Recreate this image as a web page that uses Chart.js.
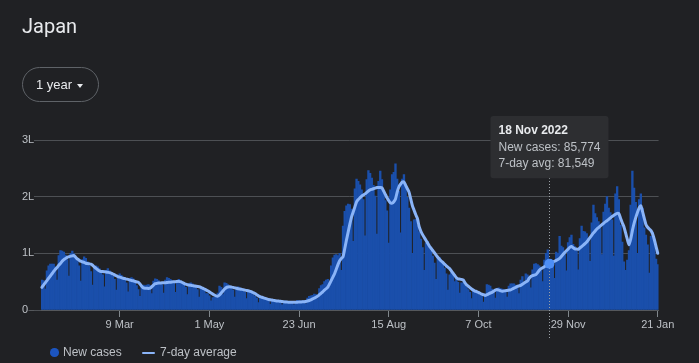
<!DOCTYPE html>
<html>
<head>
<meta charset="utf-8">
<script src="https://cdn.jsdelivr.net/npm/chart.js@4.4.0/dist/chart.umd.min.js"></script>
<style>
html,body{margin:0;padding:0;background:#202124;}
#wrap{position:relative;width:699px;height:363px;overflow:hidden;font-family:Arial,"Liberation Sans",sans-serif;background:#202124;}
#c{position:absolute;left:0;top:0;}
.title{position:absolute;left:22px;top:14px;font-family:Roboto,Arial,sans-serif;font-size:20px;line-height:24px;color:#e8eaed;}
.btn{position:absolute;left:22px;top:67px;width:77px;height:35px;box-sizing:border-box;border:1px solid #5f6368;border-radius:18px;}
.btn span{position:absolute;left:13px;top:8px;font-size:13px;line-height:17px;color:#e8eaed;white-space:nowrap;}
.caret{position:absolute;left:54px;top:16px;width:0;height:0;border-left:3.5px solid transparent;border-right:3.5px solid transparent;border-top:4px solid #e8eaed;}
.lg{position:absolute;font-size:12px;line-height:14px;color:#bdc1c6;white-space:nowrap;}
.dot{position:absolute;left:50px;top:348.3px;width:8.5px;height:8.5px;border-radius:50%;background:#1c55c0;}
.ln{position:absolute;left:142px;top:351.7px;width:13px;height:2px;background:#8ab4f8;border-radius:1px;}
</style>
</head>
<body>
<div id="wrap">
  <canvas id="c" width="699" height="363"></canvas>
  <div class="title">Japan</div>
  <div class="btn"><span>1 year</span><div class="caret"></div></div>
  <div class="dot"></div><div class="lg" style="left:63px;top:345px;">New cases</div>
  <div class="ln"></div><div class="lg" style="left:160px;top:345px;">7-day average</div>
</div>
<script>
// ---- data (values in thousands of cases), first day = 22 Jan 2022 ----
const newCases = [
53,52,37,69,78,81,81,
81,76,53,96,105,104,102,
97,89,60,100,104,99,93,
87,78,51,89,94,91,85,
78,68,44,75,78,76,73,
68,62,41,70,73,69,65,
60,54,35,60,64,61,58,
54,48,32,55,57,55,50,
43,36,24,42,44,43,44,
45,43,29,51,55,54,52,
49,45,30,53,57,56,54,
52,47,31,52,54,51,48,
45,40,27,46,48,46,44,
41,36,23,38,39,36,29,
29,25,16,22,23,26,30,
42,40,27,48,47,45,42,
39,35,23,39,41,39,37,
35,31,20,33,33,30,27,
24,21,13,22,22,21,19,
18,16,10,17,18,17,16,
15,13,9,15,16,15,15,
14,13,9,15,17,16,16,
16,16,11,21,24,25,26,
28,27,20,38,43,45,50,
53,54,40,78,92,97,98,
96,100,70,148,174,184,187,
186,178,121,214,231,227,221,
212,195,131,230,246,241,233,
220,201,134,227,245,230,208,
193,175,118,212,239,243,258,
231,210,136,231,239,220,199,
180,156,100,159,160,149,138,
125,110,70,118,121,113,105,
95,83,54,91,93,87,82,
74,64,35,62,66,62,50,
55,49,30,48,48,44,40,
36,31,20,33,34,31,29,
26,25,14,28,45,44,42,
37,33,21,36,39,38,37,
36,33,23,42,46,46,46,
44,42,29,53,59,48,64,
62,57,39,71,81,82,80,
78,73,50,88,100,106,85.774,
89,83,56,102,100,130,113,
110,103,69,119,128,132,116,
112,104,71,126,148,139,138,
135,126,86,154,185,170,163,
156,145,98,173,187,200,180,
172,159,95,205,218,195,150,
120,85,70,88,105,185,245,
215,190,100,195,205,180,145,
132,115,65,130,137,122,90,
80
];
const avg7 = [
40,44,48,52,56,60,64,
68,72,75,79,82,86,89,
91,93,94,95,95.5,96,93,
90,88,86,85,84,82.5,82,
81.5,81,79,76,73.5,71,69,
68,68,67.5,67,66.5,66,65,
63.5,62,60.5,59,58,57,56,
55.5,54.5,54,53,52,51.5,50.5,
49.5,49,46,42,39,38.5,38.5,
38,38.5,41,44,46.5,47,47.5,
47.5,48,48,48,48.5,49,49,
49.5,50,50,50.5,50.5,50,48.5,
47,45.5,44.5,44,43.5,43,42.5,
42,41.5,41,40,38.5,37,35.5,
34,32,30,28,26.5,25,24.5,
26.5,30,33.5,37,39.5,40.5,41,
40.5,40,39,38.5,37.5,37,36.5,
36,35,34.5,34,33,32,30.5,
29,27,25,23.5,22.5,21.5,20.5,
19.5,18.5,18,17.5,17,16.5,16,
15.7,15.5,15,14.5,14,14,13.7,
13.5,13.5,13.5,13.6,13.8,14,14.2,
14.4,14.6,15,15.8,16.8,18,19.5,
21,22.5,24.5,27,29.5,32,35,
37.5,40.5,46,52,58,64,72,
80,87,91,94,108,123,137,
151,164,173,182,191,195,198,
201,203,205,207.5,210,212,213,
214,215,216,216,216,215.5,210,
204,198,193,189,188.5,191,196,
208,217,222,226,226,220,214,
208,196,184,176,168,161,147,
139,133,128,123,118,113,109,
105,101,97,93,89.5,86.5,84,
81,78,75.5,73,69,65,61,
57,55,54.5,54,53,48.5,44.5,
42,39.5,37,35,33.5,32.5,31,
29.5,28,27,25.7,27,28.5,30,
31,33,35,36,35,34,33,
33.5,34,34.5,35,35.5,37,38.5,
40,41.5,42.5,43.5,45.5,47.5,49.5,
51,56,59,60.5,61.5,62.5,66,
70,73,74.5,76.5,78.5,80,81.549,
83,84.5,86,87.5,89,91,94.5,
98,101.5,104.5,107.5,110.5,112,110,
108,107.5,107,109.5,112,114.5,117,
120,124,128,132,136,139.5,143,
145.5,148,150.5,153,155.5,157.5,160,
162.5,165,167,169,170.5,170,162,
154,147,136,125,115,125,140,
153,163,172,180,184,174,162,
151,146,143,140,134,124,112,
100
];
const xTickLabels = ['9 Mar','1 May','23 Jun','15 Aug','7 Oct','29 Nov','21 Jan'];
const yTickLabels = ['0','1L','2L','3L'];
const tooltipDate = '18 Nov 2022';

// categories: one label per day
const MONTHS = ['Jan','Feb','Mar','Apr','May','Jun','Jul','Aug','Sep','Oct','Nov','Dec'];
const startMs = Date.UTC(2022, 0, 22);
const categories = newCases.map((_, i) => {
  const d = new Date(startMs + i * 86400000);
  return d.getUTCDate() + ' ' + MONTHS[d.getUTCMonth()] + ' ' + d.getUTCFullYear();
});
const shortLabel = i => categories[i].split(' ').slice(0, 2).join(' ');
const tipIndex = categories.indexOf(tooltipDate);

Chart.defaults.font.family = 'Arial, "Liberation Sans", sans-serif';
const BAR = '#1a4fab';

Chart.Tooltip.positioners.pinned = function (items) {
  if (!items.length) return false;
  return { x: items[0].element.x - 59 + 3, y: this.chart.chartArea.top - 24 };
};

const extras = {
  id: 'extras',
  afterDatasetDraw(chart, args) {
    if (args.index !== 0 || tipIndex < 0) return;
    const ctx = chart.ctx;
    const x = Math.round(chart.getDatasetMeta(0).data[tipIndex].x) + 0.5;
    ctx.save();
    ctx.strokeStyle = '#9aa0a6';
    ctx.lineWidth = 1;
    ctx.setLineDash([1, 2]);
    ctx.beginPath();
    ctx.moveTo(x, chart.chartArea.top + 38);
    ctx.lineTo(x, 338);
    ctx.stroke();
    ctx.restore();
  },
  afterDraw(chart) {
    const ctx = chart.ctx;
    const y = Math.round(chart.scales.y.getPixelForValue(0)) + 0.5;
    ctx.save();
    ctx.strokeStyle = '#55585c';
    ctx.lineWidth = 1;
    ctx.beginPath();
    ctx.moveTo(28.5, y);
    ctx.lineTo(chart.chartArea.left - 7, y);
    ctx.stroke();
    ctx.restore();
  }
};

const chart = new Chart(document.getElementById('c'), {
  type: 'bar',
  data: {
    labels: categories,
    datasets: [
      {
        label: 'New cases', data: newCases, backgroundColor: BAR, hoverBackgroundColor: BAR,
        borderWidth: 0, barPercentage: 1, categoryPercentage: 1, order: 2
      },
      {
        type: 'line', label: '7-day avg', data: avg7, borderColor: '#8ab4f8', borderWidth: 3,
        pointRadius: 0, pointHoverRadius: 5, pointHoverBorderWidth: 0,
        pointHoverBackgroundColor: '#4d8ef6', tension: 0.2, order: 1,
        borderJoinStyle: 'round', borderCapStyle: 'round'
      }
    ]
  },
  options: {
    responsive: false,
    animation: false,
    events: [],
    layout: { padding: { left: 22, top: 140, right: 40.4, bottom: 0 } },
    plugins: {
      legend: { display: false },
      tooltip: {
        enabled: true, position: 'pinned', xAlign: 'left', yAlign: 'top',
        caretSize: 0, caretPadding: 0, cornerRadius: 3,
        backgroundColor: '#2d2e31', titleColor: '#e8eaed', bodyColor: '#bdc1c6',
        titleFont: { size: 12, weight: 'bold' }, bodyFont: { size: 12 },
        titleMarginBottom: 3, bodySpacing: 2,
        padding: { left: 8, right: 8, top: 7, bottom: 7 },
        displayColors: false,
        callbacks: {
          title: items => items[0].label,
          label: c => (c.datasetIndex === 0 ? 'New cases: ' : '7-day avg: ') +
            Math.round(c.raw * 1000).toLocaleString('en-US')
        }
      }
    },
    scales: {
      x: {
        offset: true,
        grid: { display: true, drawOnChartArea: false, drawTicks: true, tickLength: 7, color: '#80868b', offset: false },
        border: { display: true, color: '#55585c' },
        ticks: {
          autoSkip: false, maxRotation: 0, padding: 1, color: '#bdc1c6', font: { size: 11 },
          callback: v => shortLabel(v)
        },
        afterBuildTicks: s => { s.ticks = s.ticks.filter(t => xTickLabels.includes(shortLabel(t.value))); },
        afterFit: s => { s.height = 53; }
      },
      y: {
        min: 0, max: 300,
        ticks: {
          stepSize: 100, crossAlign: 'far', padding: 1, color: '#bdc1c6', font: { size: 11 },
          callback: v => yTickLabels[Math.round(v / 100)]
        },
        grid: { color: '#4d5054', tickLength: 7, drawTicks: true },
        border: { display: false },
        afterFit: s => { s.width = 19; }
      }
    }
  },
  plugins: [extras]
});

if (tipIndex >= 0) {
  chart.setActiveElements([{ datasetIndex: 1, index: tipIndex }]);
  chart.tooltip.setActiveElements(
    [{ datasetIndex: 0, index: tipIndex }, { datasetIndex: 1, index: tipIndex }], { x: 0, y: 0 });
  chart.update();
}
</script>
</body>
</html>
